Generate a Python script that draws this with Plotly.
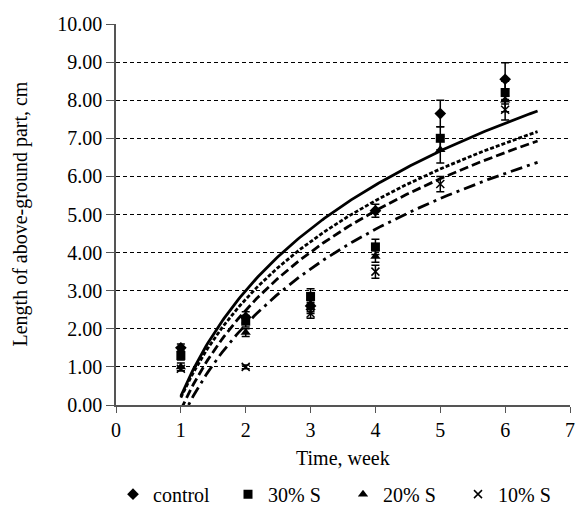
import numpy as np
import plotly.graph_objects as go

weeks = [1, 2, 3, 4, 5, 6]
series_names = ["control", "30% S", "20% S", "10% S"]
control = [1.50, 2.30, 2.60, 5.10, 7.65, 8.55]
s30 = [1.30, 2.20, 2.85, 4.15, 7.00, 8.20]
s20 = [1.00, 1.90, 2.55, 3.90, 6.70, 8.00]
s10 = [0.95, 1.00, 2.40, 3.50, 5.80, 7.75]
err_control = [0.10, 0.15, 0.15, 0.17, 0.35, 0.43]
err_s30 = [0.12, 0.15, 0.20, 0.20, 0.30, 0.30]
err_s20 = [0.10, 0.10, 0.15, 0.15, 0.35, 0.30]
err_s10 = [0.05, 0.05, 0.12, 0.17, 0.20, 0.27]
y_ticks = [0, 1, 2, 3, 4, 5, 6, 7, 8, 9, 10]
x_ticks = [0, 1, 2, 3, 4, 5, 6, 7]

values = [control, s30, s20, s10]
errors = [err_control, err_s30, err_s20, err_s10]
symbols = ["diamond", "square", "triangle-up", "x-thin-open"]
sizes = [9, 9, 9, 8]
dashes = ["solid", "4px,2px", "9px,4px", "12px,5px,3px,5px"]

FONT = "Times New Roman, Liberation Serif, serif"
FS = 20
fig = go.Figure()

xs = np.linspace(1, 6.5, 200)
for name, v, d in zip(series_names, values, dashes):
    a, b = np.polyfit(np.log(weeks), v, 1)
    fig.add_trace(go.Scatter(x=xs, y=a * np.log(xs) + b, mode="lines",
                             line=dict(color="black", width=2.8, dash=d),
                             showlegend=False, hoverinfo="skip"))

for name, v, e, sym, sz in zip(series_names, values, errors, symbols, sizes):
    marker = dict(symbol=sym, size=sz, color="black")
    if sym.startswith("x-thin"):
        marker["line"] = dict(color="black", width=1.5)
    fig.add_trace(go.Scatter(x=weeks, y=v, mode="markers", name=name,
                             marker=marker,
                             error_y=dict(type="data", array=e, color="black",
                                          thickness=1.5, width=4)))

PW = 576 - 116 - 6
fig.update_layout(
    width=576, height=512,
    margin=dict(l=116, r=6, t=24, b=107, autoexpand=False),
    paper_bgcolor="white", plot_bgcolor="white",
    font=dict(family=FONT, size=FS, color="black"),
    legend=dict(orientation="h", x=(113 - 116) / PW, xanchor="left", y=-0.234,
                yanchor="middle", font=dict(family=FONT, size=FS, color="black"),
                entrywidth=70, itemwidth=30, bgcolor="rgba(0,0,0,0)"),
    annotations=[dict(text="Length of above-ground part, cm", textangle=-90,
                      xref="paper", yref="paper", x=(20 - 116) / PW, y=0.5,
                      xanchor="center", yanchor="middle", showarrow=False,
                      font=dict(family=FONT, size=FS, color="black")),
                 dict(text="Time, week", xref="paper", yref="paper",
                      x=0.5, y=(405 - 458) / 381, xanchor="center", yanchor="middle",
                      showarrow=False, font=dict(family=FONT, size=FS, color="black"))],
)
fig.update_xaxes(range=[0, 7], tickvals=x_ticks, ticks="outside", ticklen=6,
                 tickcolor="#555555", showline=True, linecolor="#555555", linewidth=1.5,
                 showgrid=False, zeroline=False, automargin=False,
                 tickfont=dict(family=FONT, size=FS, color="black"))
fig.update_yaxes(range=[0, 10], tickvals=y_ticks, tickformat=".2f", ticks="outside",
                 ticklen=8, tickcolor="#555555", showline=True, linecolor="#555555",
                 linewidth=1.5, showgrid=True, gridcolor="black", gridwidth=0.8,
                 griddash="4px,3px", zeroline=False, automargin=False,
                 tickfont=dict(family=FONT, size=FS, color="black"))

fig.write_html("out.html", config={"displayModeBar": False},
               post_script="document.body.style.margin='0';")
